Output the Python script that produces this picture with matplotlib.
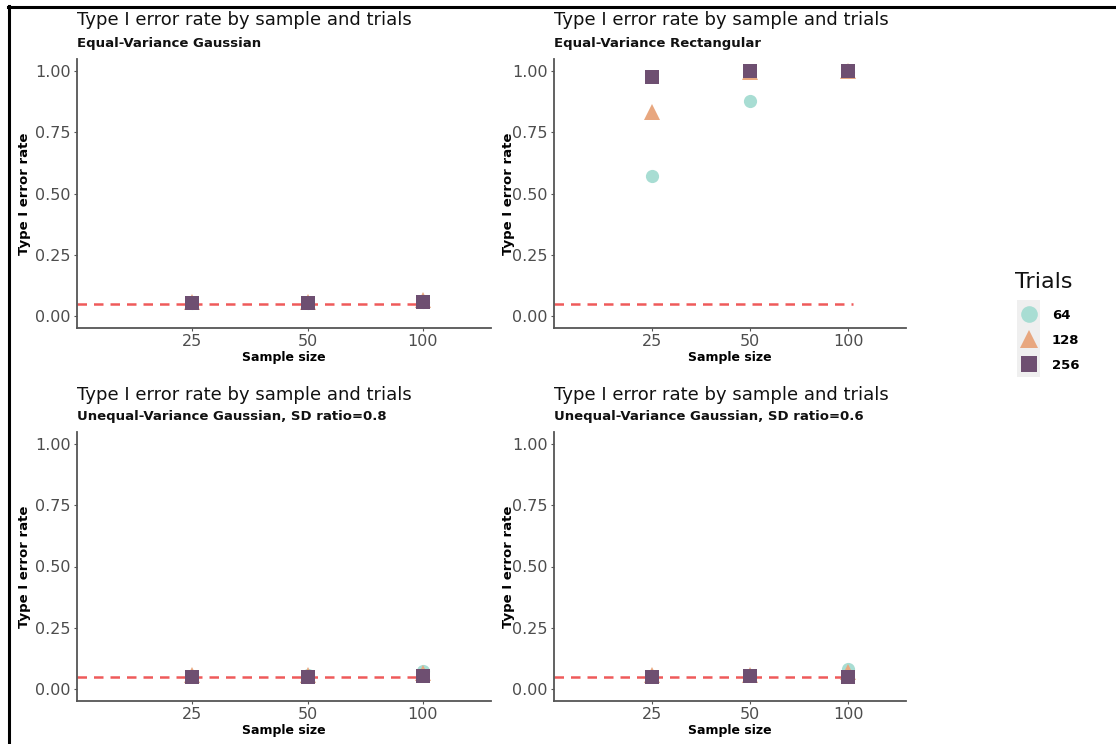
import matplotlib.pyplot as plt
import matplotlib.lines as mlines
import matplotlib.patches as mpatches

# sample sizes shown as evenly spaced categories
sample_sizes = ["25", "50", "100"]
trials = ["64", "128", "256"]
alpha_level = 0.05

panel_titles = ["Equal-Variance Gaussian",
                "Equal-Variance Rectangular",
                "Unequal-Variance Gaussian, SD ratio=0.8",
                "Unequal-Variance Gaussian, SD ratio=0.6"]

# type I error rate per panel, per trials level (64, 128, 256), per sample size
rate_ev_gauss = {"64": [0.055, 0.055, 0.060],
                 "128": [0.060, 0.060, 0.065],
                 "256": [0.055, 0.055, 0.058]}
rate_ev_rect = {"64": [0.57, 0.875, 0.995],
                "128": [0.83, 0.995, 1.00],
                "256": [0.975, 1.00, 1.00]}
rate_uv_08 = {"64": [0.055, 0.060, 0.075],
              "128": [0.060, 0.060, 0.065],
              "256": [0.050, 0.050, 0.055]}
rate_uv_06 = {"64": [0.055, 0.060, 0.085],
              "128": [0.060, 0.060, 0.070],
              "256": [0.050, 0.055, 0.050]}
panel_data = [rate_ev_gauss, rate_ev_rect, rate_uv_08, rate_uv_06]

colors = {"64": "#a8ddd3", "128": "#e8a77f", "256": "#6e4f71"}
markers = {"64": "o", "128": "^", "256": "s"}
msizes = {"64": 9.5, "128": 11, "256": 9.5}

W, H = 1116, 744
fig = plt.figure(figsize=(W / 100, H / 100), dpi=100)

def fx(px):
    return px / W

def fy(py):
    return 1 - py / H

# axes boxes in pixels: left, right, top, bottom
boxes = [(77, 491, 59, 328), (554, 906, 59, 328),
         (77, 491, 432, 701), (554, 906, 432, 701)]
title_y = [(20, 43), (20, 43), (395, 417), (395, 417)]

xpos = [1, 2, 3]
for i, (l, r, t, b) in enumerate(boxes):
    ax = fig.add_axes([fx(l), fy(b), fx(r - l), (b - t) / H])
    data = panel_data[i]
    for tr in trials:
        ax.plot(xpos, data[tr], linestyle="none", marker=markers[tr],
                markersize=msizes[tr], color=colors[tr], markeredgewidth=0,
                zorder=3)
    ax.hlines(alpha_level, 0, 3.05, colors="#ef5a5a", linewidth=1.8,
              linestyles=(0, (3.8, 2.8)), zorder=2)
    ax.set_xlim(0, 3.59)
    ax.set_ylim(-0.047, 1.047)
    ax.set_xticks(xpos)
    ax.set_xticklabels(sample_sizes)
    ax.set_yticks([0, 0.25, 0.5, 0.75, 1.0])
    ax.set_yticklabels(["0.00", "0.25", "0.50", "0.75", "1.00"])
    for s in ["top", "right"]:
        ax.spines[s].set_visible(False)
    for s in ["left", "bottom"]:
        ax.spines[s].set_color("#555555")
        ax.spines[s].set_linewidth(1.3)
    ax.tick_params(length=2.5, width=0.8, color="#555555", pad=2,
                   labelsize=11.5, labelcolor="#4d4d4d")
    ax.set_xlabel("Sample size", fontsize=9, fontweight="bold", color="black")
    ax.set_ylabel("Type I error rate", fontsize=9.5, fontweight="bold", color="black")
    ax.xaxis.set_label_coords(0.5, -0.085)
    ax.yaxis.set_label_coords(-0.112, 0.5)
    fig.text(fx(l), fy(title_y[i][0]), "Type I error rate by sample and trials",
             fontsize=13, va="center", ha="left", color="#111111")
    fig.text(fx(l), fy(title_y[i][1]), panel_titles[i],
             fontsize=9.5, fontweight="bold", va="center", ha="left", color="#111111")

# legend
fig.text(fx(1015), fy(282), "Trials", fontsize=16, va="center", ha="left",
         color="#111111")
fig.patches.append(mpatches.Rectangle((fx(1017), fy(377)), fx(23), 77 / H,
                                      transform=fig.transFigure,
                                      facecolor="#efefef", edgecolor="none",
                                      zorder=0))
handles = [mlines.Line2D([], [], linestyle="none", marker=markers[tr],
                         markersize=msizes[tr] + 2.5, color=colors[tr],
                         markeredgewidth=0, label=tr) for tr in trials]
leg = fig.legend(handles=handles, loc="upper left",
                 bbox_to_anchor=(fx(1021), fy(309)), frameon=False,
                 borderpad=0, borderaxespad=0,
                 handlelength=1.2, handletextpad=1.15, labelspacing=0.9,
                 prop={"size": 9.5, "weight": "bold"})

# outer frame of the picture (top and left only)
fig.add_artist(mlines.Line2D([fx(8), 1], [fy(6.5), fy(6.5)],
                             transform=fig.transFigure, color="black", linewidth=2.2))
fig.add_artist(mlines.Line2D([fx(8.5), fx(8.5)], [fy(6), 0],
                             transform=fig.transFigure, color="black", linewidth=2.2))

fig.savefig("out.png", dpi=100)
